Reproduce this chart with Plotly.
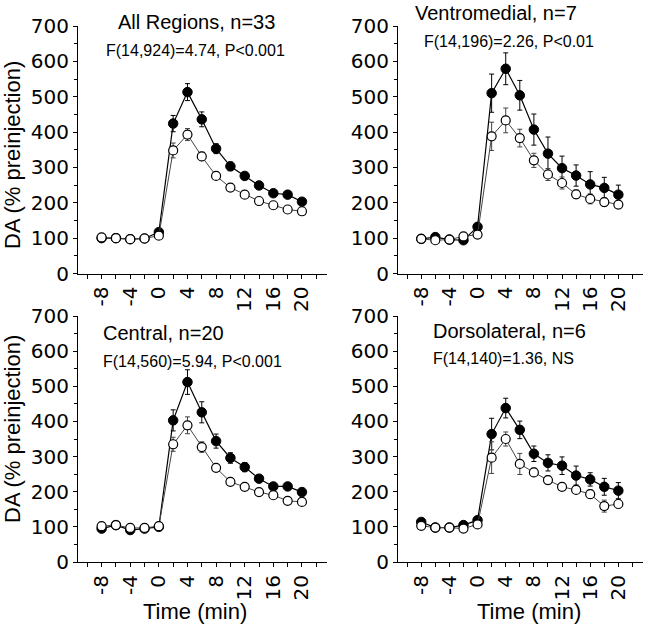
# DA time course, four regions (filled vs open symbols)

import plotly.graph_objects as go
from plotly.subplots import make_subplots

W, H = 648, 624

# time points (min)
TIME = [-8, -6, -4, -2, 0, 2, 4, 6, 8, 10, 12, 14, 16, 18, 20]
X_TICKS = [-8, -4, 0, 4, 8, 12, 16, 20]
X_TICK_TEXT = ["-8", "-4", "0", "4", "8", "12", "16", "20"]

# All Regions, n=33
ALL_FILLED = [100, 100, 97, 99, 117, 424, 513, 436, 353, 303, 276, 249, 227, 223, 203]
ALL_FILLED_ERR = [4, 4, 4, 4, 6, 23, 24, 21, 14, 12, 10, 8, 7, 7, 7]
ALL_OPEN = [102, 100, 97, 99, 107, 348, 393, 331, 276, 243, 223, 205, 193, 181, 176]
ALL_OPEN_ERR = [4, 4, 4, 4, 5, 21, 17, 12, 7, 6, 5, 5, 5, 5, 5]

# Ventromedial, n=7
VM_FILLED = [98, 103, 96, 94, 132, 510, 579, 504, 407, 339, 298, 277, 252, 242, 223]
VM_FILLED_ERR = [5, 5, 5, 5, 8, 54, 45, 42, 44, 47, 34, 30, 36, 30, 27]
VM_OPEN = [98, 94, 96, 105, 110, 388, 433, 383, 320, 280, 256, 224, 211, 202, 195]
VM_OPEN_ERR = [5, 5, 5, 5, 6, 40, 35, 25, 20, 17, 17, 12, 14, 12, 10]

# Central, n=20
CE_FILLED = [95, 105, 91, 95, 100, 403, 512, 426, 344, 296, 270, 237, 215, 215, 199]
CE_FILLED_ERR = [4, 4, 4, 4, 5, 30, 35, 30, 20, 15, 13, 10, 8, 8, 7]
CE_OPEN = [102, 105, 97, 97, 102, 335, 389, 327, 268, 228, 214, 199, 190, 174, 171]
CE_OPEN_ERR = [4, 4, 4, 4, 4, 20, 24, 15, 8, 6, 6, 5, 5, 5, 5]

# Dorsolateral, n=6
DL_FILLED = [114, 98, 98, 105, 119, 364, 438, 376, 308, 282, 274, 246, 235, 214, 203]
DL_FILLED_ERR = [5, 4, 4, 5, 8, 45, 28, 25, 22, 23, 25, 27, 19, 24, 23]
DL_OPEN = [103, 98, 98, 95, 107, 297, 350, 279, 255, 233, 214, 205, 193, 159, 165]
DL_OPEN_ERR = [5, 4, 4, 8, 6, 45, 20, 30, 12, 12, 10, 10, 12, 17, 12]

PANELS = [
    (1, 1, ALL_FILLED, ALL_FILLED_ERR, ALL_OPEN, ALL_OPEN_ERR),
    (1, 2, VM_FILLED, VM_FILLED_ERR, VM_OPEN, VM_OPEN_ERR),
    (2, 1, CE_FILLED, CE_FILLED_ERR, CE_OPEN, CE_OPEN_ERR),
    (2, 2, DL_FILLED, DL_FILLED_ERR, DL_OPEN, DL_OPEN_ERR),
]

TICK_FONT = dict(family="DejaVu Sans", size=20, color="black")
TEXT_FONT = "Liberation Sans, Arial, sans-serif"


def px_x(p):
    return p / W


def px_y(p):
    return 1 - p / H


fig = make_subplots(rows=2, cols=2)

for row, col, filled, filled_err, opn, opn_err in PANELS:
    # filled symbols
    fig.add_trace(
        go.Scatter(
            x=TIME, y=filled, mode="lines+markers",
            line=dict(color="black", width=1.2),
            marker=dict(symbol="circle", size=9.5, color="black",
                        line=dict(color="black", width=1)),
            error_y=dict(type="data", array=filled_err, color="black",
                         thickness=1, width=2.5),
        ),
        row=row, col=col,
    )
    # open symbols on top
    fig.add_trace(
        go.Scatter(
            x=TIME, y=opn, mode="lines+markers",
            line=dict(color="#444444", width=1),
            marker=dict(symbol="circle", size=9, color="white",
                        line=dict(color="black", width=1.2)),
            error_y=dict(type="data", array=opn_err, color="#444444",
                         thickness=1, width=2.5),
        ),
        row=row, col=col,
    )

# axis domains (pixels)
X_DOM = {1: [px_x(78), px_x(327)], 2: [px_x(398), px_x(643)]}
Y_DOM = {1: [px_y(273.5), px_y(26)], 2: [px_y(562), px_y(316)]}

for row in (1, 2):
    for col in (1, 2):
        fig.update_xaxes(
            domain=X_DOM[col], range=[-11.3, 23.5], automargin=False,
            tickmode="array", tickvals=X_TICKS, ticktext=X_TICK_TEXT,
            tickangle=-90,
            ticks="outside", ticklen=4, tickwidth=1, tickcolor="black",
            minor=dict(tick0=-8, dtick=2, ticks="outside", ticklen=4,
                       tickcolor="black", tickwidth=1),
            showline=True, linecolor="black", linewidth=1,
            showgrid=False, zeroline=False, tickfont=TICK_FONT,
            row=row, col=col,
        )
        fig.update_yaxes(
            domain=Y_DOM[row], range=[0, 700], automargin=False,
            tickmode="linear", tick0=0, dtick=100,
            ticks="outside", ticklen=4, tickwidth=1, tickcolor="black",
            minor=dict(dtick=50, ticks="outside", ticklen=3,
                       tickcolor="black", tickwidth=1),
            showline=True, linecolor="black", linewidth=1,
            showgrid=False, zeroline=False, tickfont=TICK_FONT,
            row=row, col=col,
        )

# panel titles and statistics
TITLES = [
    ("All Regions, n=33", 196, 22, "center", 20),
    ("F(14,924)=4.74, P<0.001", 195, 50, "center", 16),
    ("Ventromedial, n=7", 496, 13, "center", 20),
    ("F(14,196)=2.26, P<0.01", 509, 42, "center", 16),
    ("Central, n=20", 101, 333, "left", 20),
    ("F(14,560)=5.94, P<0.001", 101, 361, "left", 16),
    ("Dorsolateral, n=6", 431, 331, "left", 20),
    ("F(14,140)=1.36, NS", 431, 358, "left", 16),
]
for text, x, y, anchor, size in TITLES:
    fig.add_annotation(
        text=text, x=px_x(x), y=px_y(y), xref="paper", yref="paper",
        xanchor=anchor, yanchor="middle", showarrow=False,
        font=dict(family=TEXT_FONT, size=size, color="black"),
    )

# axis titles
for y in (155, 429):
    fig.add_annotation(
        text="DA (% preinjection)", x=px_x(12), y=px_y(y),
        xref="paper", yref="paper", textangle=-90, showarrow=False,
        xanchor="center", yanchor="middle",
        font=dict(family=TEXT_FONT, size=22, color="black"),
    )
for x in (195, 529):
    fig.add_annotation(
        text="Time (min)", x=px_x(x), y=px_y(611),
        xref="paper", yref="paper", showarrow=False,
        xanchor="center", yanchor="middle",
        font=dict(family=TEXT_FONT, size=22, color="black"),
    )

fig.update_layout(
    width=W, height=H,
    margin=dict(l=0, r=0, t=0, b=0),
    showlegend=False,
    plot_bgcolor="white",
    paper_bgcolor="white",
    font=dict(family=TEXT_FONT, color="black"),
)

# drop the browser's default 8px body margin so the figure fills the window
fig.write_html(
    "out.html",
    config={"displayModeBar": False},
    post_script="document.body.style.margin='0';document.body.style.overflow='hidden';",
)
